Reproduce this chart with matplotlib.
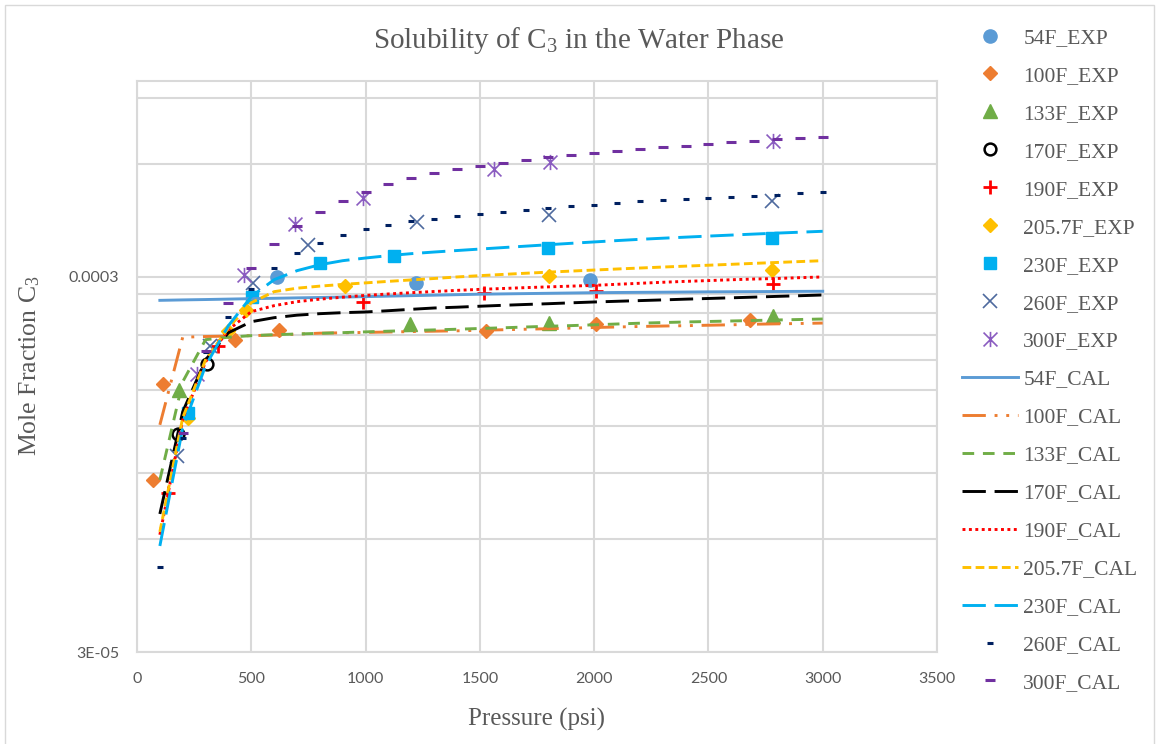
import numpy as np
import matplotlib
matplotlib.use('Agg')
import matplotlib.pyplot as plt
from matplotlib.path import Path
from matplotlib.patches import Rectangle
from matplotlib.ticker import NullFormatter

plt.rcParams['mathtext.fontset'] = 'custom'
plt.rcParams['mathtext.rm'] = 'Liberation Serif'
plt.rcParams['mathtext.it'] = 'Liberation Serif:italic'

# calculated solubility, every 100 psi (mole fraction x 1e-4)
p_cal = [100, 200, 300, 400, 500, 600, 700, 800, 900, 1000,
         1100, 1200, 1300, 1400, 1500, 1600, 1700, 1800, 1900, 2000,
         2100, 2200, 2300, 2400, 2500, 2600, 2700, 2800, 2900, 3000]

cal_54 = [2.599, 2.606, 2.612, 2.619, 2.626, 2.632, 2.639, 2.645, 2.652, 2.659,
          2.667, 2.675, 2.683, 2.691, 2.699, 2.704, 2.709, 2.714, 2.719, 2.724,
          2.727, 2.730, 2.732, 2.735, 2.738, 2.740, 2.742, 2.744, 2.746, 2.748]
cal_100 = [1.211, 2.073, 2.082, 2.087, 2.093, 2.100, 2.112, 2.125, 2.130, 2.135,
           2.140, 2.146, 2.151, 2.156, 2.163, 2.170, 2.177, 2.184, 2.192, 2.200,
           2.207, 2.214, 2.220, 2.225, 2.231, 2.237, 2.245, 2.250, 2.255, 2.261]
cal_133 = [0.864, 1.577, 2.042, 2.073, 2.093, 2.105, 2.114, 2.123, 2.132, 2.142,
           2.151, 2.160, 2.168, 2.177, 2.187, 2.196, 2.207, 2.217, 2.226, 2.237,
           2.248, 2.259, 2.268, 2.276, 2.283, 2.290, 2.297, 2.304, 2.311, 2.318]
cal_170 = [0.701, 1.312, 1.805, 2.131, 2.280, 2.337, 2.373, 2.395, 2.410, 2.420,
           2.439, 2.460, 2.480, 2.492, 2.507, 2.521, 2.534, 2.546, 2.560, 2.573,
           2.584, 2.595, 2.606, 2.618, 2.629, 2.640, 2.651, 2.663, 2.674, 2.686]
cal_190 = [0.617, 1.249, 1.783, 2.171, 2.425, 2.516, 2.578, 2.618, 2.650, 2.679,
           2.703, 2.724, 2.744, 2.763, 2.780, 2.795, 2.810, 2.823, 2.836, 2.849,
           2.868, 2.886, 2.904, 2.920, 2.934, 2.949, 2.962, 2.972, 2.987, 3.000]
cal_2057 = [0.628, 1.265, 1.805, 2.198, 2.562, 2.741, 2.800, 2.836, 2.866, 2.893,
            2.920, 2.946, 2.972, 3.000, 3.024, 3.047, 3.069, 3.090, 3.110, 3.130,
            3.150, 3.169, 3.188, 3.206, 3.224, 3.242, 3.261, 3.279, 3.297, 3.315]
cal_230 = [0.576, 1.189, 1.740, 2.225, 2.659, 2.950, 3.118, 3.234, 3.315, 3.370,
           3.419, 3.461, 3.496, 3.528, 3.560, 3.592, 3.624, 3.656, 3.688, 3.719,
           3.750, 3.779, 3.805, 3.830, 3.855, 3.879, 3.903, 3.926, 3.948, 3.970]
cal_260 = [0.507, 1.118, 1.896, 2.347, 2.789, 3.171, 3.478, 3.697, 3.882, 4.029,
           4.128, 4.221, 4.290, 4.355, 4.416, 4.482, 4.536, 4.590, 4.629, 4.677,
           4.725, 4.773, 4.800, 4.842, 4.881, 4.911, 4.944, 4.974, 5.013, 5.043]
# 300F starts at 200 psi
cal_300 = [1.154, 1.908, 2.562, 3.168, 3.681, 4.110, 4.482, 4.794, 5.050,
           5.297, 5.496, 5.668, 5.808, 5.930, 6.042, 6.153, 6.267, 6.345, 6.436,
           6.515, 6.595, 6.665, 6.718, 6.788, 6.872, 6.928, 6.992, 7.044, 7.087]

# experimental points (psi, mole fraction x 1e-4)
p_54 = [612, 1221, 1982]
x_54 = [3.006, 2.897, 2.950]
p_100 = [71, 115, 429, 623, 1527, 2006, 2682]
x_100 = [0.864, 1.558, 2.042, 2.171, 2.148, 2.243, 2.304]
p_133 = [184, 1194, 1804, 2781]
x_133 = [1.502, 2.245, 2.262, 2.361]
p_170 = [181, 308]
x_170 = [1.146, 1.762]
p_190 = [135, 356, 987, 1519, 2007, 2781]
x_190 = [0.797, 1.959, 2.567, 2.725, 2.746, 2.879]
p_2057 = [223, 399, 478, 910, 1804, 2779]
x_2057 = [1.265, 2.158, 2.454, 2.844, 3.019, 3.123]
p_230 = [223, 502, 801, 1124, 1800, 2777]
x_230 = [1.306, 2.647, 3.270, 3.419, 3.581, 3.808]
p_260 = [176, 319, 509, 749, 1226, 1804, 2779]
x_260 = [1.001, 1.959, 2.891, 3.642, 4.195, 4.398, 4.773]
p_300 = [262, 470, 692, 987, 1563, 1807, 2781]
x_300 = [1.657, 3.033, 4.155, 4.881, 5.823, 6.078, 6.897]

sc = 1e-4
grey = '#595959'
gridc = '#D9D9D9'
serif = 'Liberation Serif'

# asterisk marker: an x with a vertical bar
star = Path([(-1, -1), (1, 1), (-1, 1), (1, -1), (0, -1.1), (0, 1.1)],
            [Path.MOVETO, Path.LINETO, Path.MOVETO, Path.LINETO, Path.MOVETO, Path.LINETO])

fig = plt.figure(figsize=(11.56, 7.44), dpi=100)
ax = fig.add_axes([137/1156, 1-652.3/744, 800/1156, (652.3-80.7)/744])

exp = [
    (p_54, x_54, '54F_EXP', dict(marker='o', ms=9.5, color='#5B9BD5', mec='#5B9BD5')),
    (p_100, x_100, '100F_EXP', dict(marker='D', ms=7, color='#ED7D31', mec='#ED7D31')),
    (p_133, x_133, '133F_EXP', dict(marker='^', ms=9.5, color='#70AD47', mec='#70AD47')),
    (p_170, x_170, '170F_EXP', dict(marker='o', ms=8.5, mfc='none', mec='black', mew=1.8)),
    (p_190, x_190, '190F_EXP', dict(marker='+', ms=10, mec='#FF0000', mew=2)),
    (p_2057, x_2057, '205.7F_EXP', dict(marker='D', ms=7, color='#FFC000', mec='#FFC000')),
    (p_230, x_230, '230F_EXP', dict(marker='s', ms=8, color='#00B0F0', mec='#00B0F0')),
    (p_260, x_260, '260F_EXP', dict(marker='x', ms=10, mec='#4E6A9E', mew=1.2)),
    (p_300, x_300, '300F_EXP', dict(marker=star, ms=11, mfc='none', mec='#8A5CC0', mew=1.2)),
]
handles = []
for p, x, lab, kw in exp:
    h, = ax.plot(p, np.array(x) * sc, ls='none', label=lab, **kw)
    handles.append(h)

lw = 2.1
cal = [
    (p_cal, cal_54, '54F_CAL', dict(color='#5B9BD5', ls='-')),
    (p_cal, cal_100, '100F_CAL', dict(color='#ED7D31', ls=(0, (8, 3, 1, 3, 1, 3)))),
    (p_cal, cal_133, '133F_CAL', dict(color='#70AD47', ls=(0, (4, 3)))),
    (p_cal, cal_170, '170F_CAL', dict(color='black', ls=(0, (8, 3)))),
    (p_cal, cal_190, '190F_CAL', dict(color='#FF0000', ls=(0, (1, 1.2)))),
    (p_cal, cal_2057, '205.7F_CAL', dict(color='#FFC000', ls=(0, (3, 1.5)))),
    (p_cal, cal_230, '230F_CAL', dict(color='#00B0F0', ls=(0, (8, 3)))),
]
for p, x, lab, kw in cal:
    h, = ax.plot(p, np.array(x) * sc, lw=lw, label=lab, **kw)
    handles.append(h)

h, = ax.plot(p_cal, np.array(cal_260) * sc, ls='none', marker='_', ms=4.5,
             mew=2.2, color='#002060', label='260F_CAL')
handles.append(h)
h, = ax.plot(p_cal[1:], np.array(cal_300) * sc, ls='none', marker='_', ms=7.5,
             mew=2.2, color='#7030A0', label='300F_CAL')
handles.append(h)

ax.set_xlim(0, 3500)
ax.set_yscale('log')
ax.set_ylim(3e-5, 1e-3)
ax.set_xticks(range(0, 3501, 500))
ax.set_yticks([3e-5, 3e-4], ['3E-05', '0.0003'])
minor = [k * 3e-5 for k in range(2, 10)] + [6e-4, 9e-4]
ax.set_yticks(minor, minor=True)
ax.yaxis.set_minor_formatter(NullFormatter())
ax.tick_params(which='both', length=0, colors=grey, labelsize=11.5)
ax.tick_params(axis='x', pad=14)
ax.tick_params(axis='y', pad=13)
for t in ax.get_xticklabels() + ax.get_yticklabels():
    t.set_fontfamily('Lato')
ax.grid(which='both', color=gridc, lw=1.5)
ax.set_axisbelow(True)
for s in ax.spines.values():
    s.set_color(gridc)
    s.set_linewidth(1.5)

fig.text(579/1156, 1-40/744, 'Solubility of C$_{3}$ in the Water Phase',
         ha='center', va='center', fontsize=21, family=serif, color=grey)
fig.text(537/1156, 1-719/744, 'Pressure (psi)', ha='center', va='center',
         fontsize=18, family=serif, color=grey)
fig.text(30/1156, 1-366/744, 'Mole Fraction C$_{3}$', ha='center', va='center',
         rotation=90, fontsize=18.5, family=serif, color=grey)

fig.legend(handles=handles, loc='upper left', bbox_to_anchor=(962/1156, 1-28/744),
           frameon=False, prop={'family': serif, 'size': 15.5}, labelcolor=grey,
           handlelength=2.6, handletextpad=0.25, labelspacing=0.83,
           borderpad=0, borderaxespad=0, numpoints=1)

fig.add_artist(Rectangle((5/1156, -0.01), 1149/1156, 1.01 - 5/744,
                         transform=fig.transFigure, fill=False, ec=gridc, lw=1))

fig.savefig('out.png', dpi=100)
